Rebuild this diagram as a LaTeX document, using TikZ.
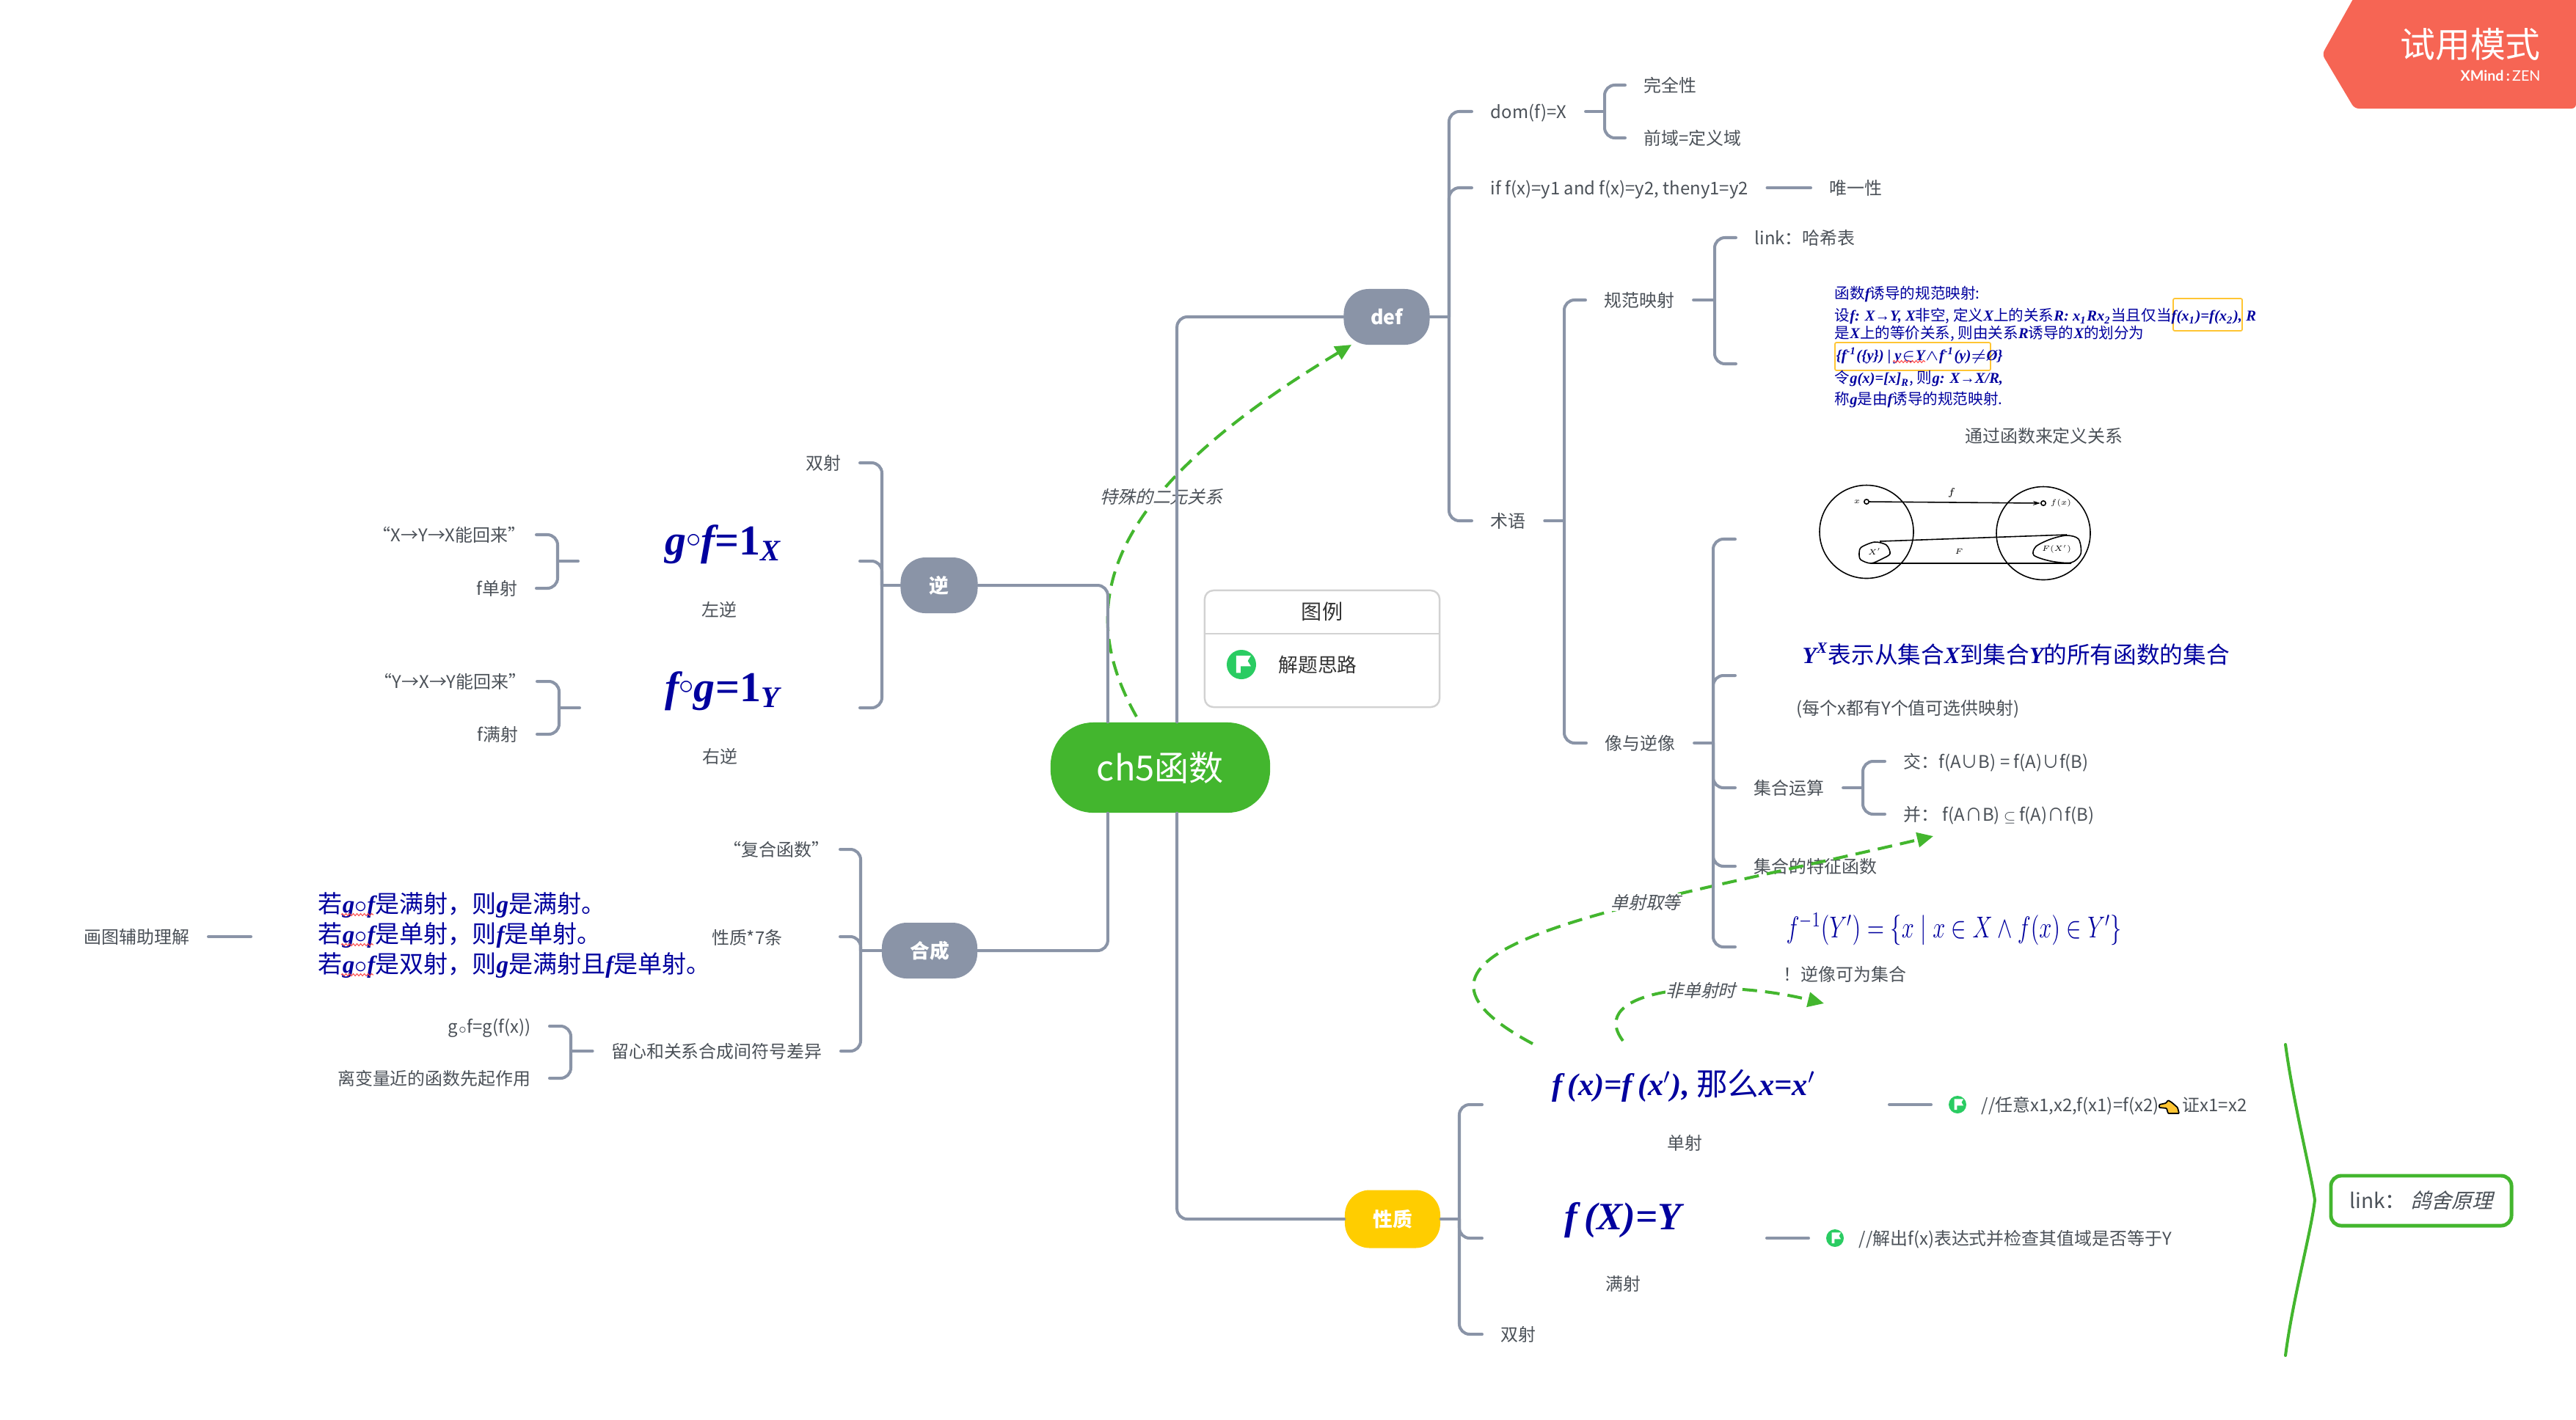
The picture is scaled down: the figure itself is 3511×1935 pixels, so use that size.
\documentclass[tikz,border=0pt]{standalone}
\usepackage{amsmath,amssymb}
\usepackage{fix-cm}
\usepackage{fontspec}
\usepackage{tikz}
\usetikzlibrary{arrows.meta,decorations.pathmorphing}
\setmainfont{Noto Sans CJK SC}
\newfontfamily\cjkit[FakeSlant=0.25]{Noto Sans CJK SC}
\newfontfamily\latinb{Liberation Serif}
\newfontfamily\markf{Lato}
\def\mv#1{{\latinb\bfseries\itshape #1}}
\def\fs#1{\fontsize{#1}{#1}\selectfont}
\def\flagicon#1#2{\fill[white,shift={(#1.center)},scale=#2] (-.37,.6)--(-.37,-.64)--(.68,-.64)--(.45,-.26)--(.68,.12)--(-.06,.12)--(-.06,.6)--cycle;}
\definecolor{spinegrey}{HTML}{8A94A7}
\definecolor{inkgrey}{HTML}{4B5158}
\definecolor{topicgreen}{HTML}{43B62E}
\definecolor{topicyellow}{HTML}{FFCD00}
\definecolor{formblue}{HTML}{00009E}
\definecolor{flaggreen}{HTML}{2ACC62}
\definecolor{boxorange}{HTML}{FFC533}
\definecolor{trialred}{HTML}{F66554}
\definecolor{legendgrey}{HTML}{D2D2D2}
\tikzset{
  leaf/.style={font=\fs{6.8},text=inkgrey,inner xsep=.25cm,inner ysep=0pt,text height=.21cm,text depth=.03cm},
  topic/.style={fill=spinegrey,text=white,font=\fs{7.6}\bfseries,rounded corners=.34cm,inner sep=0pt,minimum height=.76cm},
  branch/.style={draw=spinegrey,line width=1.15pt,rounded corners=.14cm,line cap=round},
  relation/.style={draw=topicgreen,line width=1.15pt,dash pattern=on .2cm off .11cm,-{Triangle[length=.22cm,width=.2cm]}},
  tag/.style={font=\fs{6.8}\cjkit,text=inkgrey,fill=white,inner sep=0pt,text height=.21cm,text depth=.03cm},
  formula/.style={text=formblue,inner sep=0pt},
  flagdot/.style={circle,fill=flaggreen,inner sep=0pt,minimum size=#1},
  wavy/.style={draw=red!70,line width=.3pt,decorate,decoration={snake,amplitude=.015cm,segment length=.05cm}},
  sketch/.style={draw=black,line width=.45pt}
}
\begin{document}
\begin{tikzpicture}[x=.01cm,y=-.01cm]
\useasboundingbox (0,0) rectangle (3511,1935);
% main topics
\node[topic,fill=topicgreen,font=\fs{13.4},rounded corners=.58cm,minimum width=2.99cm,minimum height=1.23cm] (ch) at (1581.5,1046.5){ch5函数};
\node[topic,minimum width=1.17cm] (defn) at (1890,432){def};
\node[topic,minimum width=1.05cm] (ni) at (1280,798){逆};
\node[topic,minimum width=1.3cm] (hecheng) at (1267,1296){合成};
\node[topic,fill=topicyellow,minimum width=1.3cm,minimum height=.79cm] (xingzhi) at (1898,1662){性质};
% def side
\node[leaf] (dom) at (2006,152)[right]{dom(f)=X};
\node[leaf] (wan) at (2215,116)[right]{完全性};
\node[leaf] (qian) at (2215,188)[right]{前域=定义域};
\node[leaf] (weiyi) at (2006,256)[right]{if f(x)=y1 and f(x)=y2, theny1=y2};
\node[leaf] (weiyib) at (2468,256)[right]{唯一性};
\node[leaf] (shuyu) at (2006,710)[right]{术语};
\node[leaf] (guifan) at (2161,409)[right]{规范映射};
\node[leaf] (hash) at (2366,324)[right]{link：哈希表};
\draw[boxorange,line width=.5pt,rounded corners=.02cm] (2962,407) rectangle (3056,451);
\draw[boxorange,line width=.5pt,rounded corners=.02cm] (2501,467) rectangle (2713,505);
\node[formula,font=\fs{5.85}] (blue1) at (2500,401)[right]{函数\mv{f}诱导的规范映射:};
\node[formula,font=\fs{5.85}] (blue2) at (2500,431)[right]{设\mv{f: X→Y, X}非空, 定义\mv{X}上的关系\mv{R: x\textsubscript{1}Rx\textsubscript{2}}当且仅当\mv{f(x\textsubscript{1})=f(x\textsubscript{2}), R}};
\node[formula,font=\fs{5.85}] (blue3) at (2500,455)[right]{是\mv{X}上的等价关系, 则由关系\mv{R}诱导的\mv{X}的划分为};
\node[formula,font=\fs{5.85}] (blue4) at (2502,485)[right]{\mv{\{f\textsuperscript{-1}(\{y\}) | y}$\in$\mv{Y}$\wedge$\mv{f\textsuperscript{-1}(y)}$\neq$\mv{Ø\}}};
\node[formula,font=\fs{5.85}] (blue5) at (2500,516)[right]{令\mv{g(x)=[x]\textsubscript{R}}, 则\mv{g: X→X/R,}};
\node[formula,font=\fs{5.85}] (blue6) at (2500,545)[right]{称\mv{g}是由\mv{f}诱导的规范映射.};
\draw[wavy] (2580,493)--(2624,493);
\node[leaf] (tongguo) at (2786,594){通过函数来定义关系};
\coordinate (guifanb) at (2366,496);
\node[leaf] (xiang) at (2162,1013)[right]{像与逆像};
% sets picture
\draw[sketch] (2544,725) ellipse (64 and 63.5);
\draw[sketch] (2785,727) ellipse (64 and 63.5);
\draw[sketch,-{Stealth[length=.1cm,width=.06cm]}] (2547,684)--(2781,686);
\draw[sketch] (2544,684) circle (3.2);
\draw[sketch] (2785,686) circle (3.2);
\draw[sketch] (2562,738)--(2817,729);
\draw[sketch] (2550,768)--(2823,768);
\draw[sketch] plot[smooth cycle] coordinates {(2537,746) (2555,739) (2571,743) (2576,755) (2565,762) (2550,768) (2536,763) (2534,754)};
\draw[sketch] plot[smooth cycle] coordinates {(2775,745) (2795,735) (2817,730) (2833,735) (2836,755) (2823,767) (2795,765) (2772,757)};
\node[font=\fs{4}\itshape,inner sep=0pt] (mapf) at (2660,672){$f$};
\node[font=\fs{3},inner sep=0pt] (ptx) at (2531,684){$x$};
\node[font=\fs{3},inner sep=0pt] (ptfx) at (2809,686){$f(x)$};
\node[font=\fs{3},inner sep=0pt] (subx) at (2555,752){$X'$};
\node[font=\fs{3},inner sep=0pt] (bigf) at (2670,752){$F$};
\node[font=\fs{3},inner sep=0pt] (subfx) at (2803,749){$F(X')$};
\coordinate (xiangpic) at (2365,735);
\node[formula,font=\fs{9}] (yx) at (2456,892)[right]{\mv{Y\textsuperscript{X}}表示从集合\mv{X}到集合\mv{Y}的所有函数的集合};
\node[leaf] (meige) at (2448,965)[right,inner xsep=0pt]{(每个x都有Y个值可选供映射)};
\coordinate (xiangyx) at (2365,921);
\node[leaf] (yunsuan) at (2365,1074)[right]{集合运算};
\node[leaf] (jiao) at (2569,1038)[right]{交：f(A∪B) = f(A)∪f(B)};
\node[leaf] (bing) at (2569,1110)[right]{并： f(A∩B)\,$\scriptstyle\subseteq$\,f(A)∩f(B)};
\node[leaf] (tezheng) at (2365,1181)[right]{集合的特征函数};
\node[formula,font=\fs{13}] (fanni) at (2434,1267)[right]{\scalebox{.668}[.9]{$f^{-1}(Y')=\{x\mid x\in X\wedge f(x)\in Y'\}$}};
\node[leaf] (nixiang) at (2430,1328)[right,inner xsep=0pt]{！逆像可为集合};
\coordinate (xiangfan) at (2365,1291);
% properties side
\node[formula,font=\fs{12.1}] (danform) at (2115,1480)[right]{\mv{f\,(x)=f\,(x$'$),} 那么\mv{x=x$'$}};
\node[leaf] (dan) at (2296,1558){单射};
\coordinate (danend) at (2020,1506);
\coordinate (dannote) at (2575,1506);
\coordinate (dannoteb) at (2632,1506);
\node[flagdot=.24cm] (danflag) at (2668,1506){};
\flagicon{danflag}{12}
\node[leaf] (renyi) at (2700,1506)[right,inner xsep=0pt]{//任意x1,x2,f(x1)=f(x2)};
\node[leaf] (zheng) at (2974,1506)[right,inner xsep=0pt]{证x1=x2};
\draw[fill=boxorange,draw=black,line width=.5pt,rounded corners=.01cm] (2943,1506)--(2952,1504)--(2955,1500)--(2960,1503)--(2968,1510)--(2970,1518)--(2955,1518)--(2953,1511)--(2943,1510)--cycle;
\node[formula,font=\fs{15}] (manform) at (2132,1664)[right]{\mv{f\,(X)=Y}};
\node[leaf] (man) at (2212,1750){满射};
\coordinate (manend) at (2020,1688);
\coordinate (mannote) at (2408,1688);
\coordinate (mannoteb) at (2465,1688);
\node[flagdot=.24cm] (manflag) at (2501,1688){};
\flagicon{manflag}{12}
\node[leaf] (jiechu) at (2533,1688)[right,inner xsep=0pt]{//解出f(x)表达式并检查其值域是否等于Y};
\node[leaf] (shuang) at (2020,1819)[right]{双射};
% summary
\draw[topicgreen,line width=1.15pt,line cap=round] (3115,1424) .. controls (3125,1500) and (3150,1600) .. (3155,1636) .. controls (3150,1680) and (3125,1770) .. (3115,1848);
\node[draw=topicgreen,line width=1.4pt,rounded corners=.14cm,minimum width=2.46cm,minimum height=.68cm,inner sep=0pt,text=inkgrey,font=\fs{8}] (geshe) at (3300,1637){link： {\cjkit 鸽舍原理}};
% inverse side
\node[leaf] (nishuang) at (1172,631)[left]{双射};
\node[formula,font=\fs{16.5}] (gf) at (986,742){\mv{g}\raisebox{.3ex}{$\scriptstyle\circ$}\mv{f}{\latinb\bfseries =1}\mv{\textsubscript{X}}};
\node[leaf] (zuoni) at (980,831){左逆};
\coordinate (zuoend) at (1172,765);
\coordinate (zuostart) at (788,765);
\node[leaf] (huilai) at (731,729)[left,inner xsep=.14cm]{“X→Y→X能回来”};
\node[leaf] (fdan) at (731,802)[left]{f单射};
\node[formula,font=\fs{16.5}] (fg) at (985,942){\mv{f}\raisebox{.3ex}{$\scriptstyle\circ$}\mv{g}{\latinb\bfseries =1}\mv{\textsubscript{Y}}};
\node[leaf] (youni) at (981,1031){右逆};
\coordinate (youend) at (1172,965);
\coordinate (youstart) at (790,965);
\node[leaf] (huilaib) at (732,929)[left,inner xsep=.14cm]{“Y→X→Y能回来”};
\node[leaf] (fman) at (732,1001)[left]{f满射};
% composition side
\node[leaf] (fuhe) at (1145,1158)[left,inner xsep=.14cm]{“复合函数”};
\node[leaf] (qiqiao) at (1092,1278)[left]{性质*7条};
\coordinate (qiqiaoend) at (1145,1277);
\node[leaf] (liuxin) at (1146,1433)[left]{留心和关系合成间符号差异};
\node[leaf] (gcf) at (749,1399)[left]{g$\scriptstyle\circ$f=g(f(x))};
\node[leaf] (likai) at (749,1470)[left]{离变量近的函数先起作用};
\node[formula,font=\fs{9.4}] (ruo1) at (433,1234)[right]{若\mv{g}$\circ$\mv{f}是满射，则\mv{g}是满射。};
\node[formula,font=\fs{9.4}] (ruo2) at (433,1275)[right]{若\mv{g}$\circ$\mv{f}是单射，则\mv{f}是单射。};
\begin{scope}
  \clip (420,1293) rectangle (950,1340);
  \node[formula,font=\fs{9.4}] (ruo3) at (433,1316)[right]{若\mv{g}$\circ$\mv{f}是双射，则\mv{g}是满射且\mv{f}是单射。};
\end{scope}
\draw[wavy] (465,1247)--(509,1247);
\draw[wavy] (465,1288)--(509,1288);
\draw[wavy] (465,1329)--(509,1329);
\node[leaf] (huatu) at (284,1277)[left]{画图辅助理解};
\coordinate (huatuend) at (342,1277);
% legend
\node[draw=legendgrey,line width=.7pt,rounded corners=.12cm,minimum width=3.2cm,minimum height=1.59cm,inner sep=0pt] (legend) at (1802,884.5){};
\coordinate (legendsep) at (1802,864);
\draw[legendgrey,line width=.7pt] (legendsep -| legend.west)--(legendsep -| legend.east);
\node[font=\fs{8},text=black!80,inner sep=0pt] (legendhead) at (1802,834){图例};
\node[flagdot=.4cm] (legendflag) at (1692,906){};
\flagicon{legendflag}{19}
\node[font=\fs{7.6},text=black!80,inner sep=0pt] (legendtext) at (1796,906){解题思路};
% trial mark
\fill[trialred,rounded corners=.06cm] (3165,74)--(3212,-10)--(3511,-10)--(3511,148)--(3209,148)--cycle;
\node[text=white,font=\fs{13.6},inner sep=0pt] (trial) at (3367,60){试用模式};
\node[text=white,font=\fs{5.6}\markf,inner sep=0pt] (xmind) at (3408,103){\textbf{XMind}\,\textbf{:}\,ZEN};
% relations
\coordinate (defa) at (1549,977);
\coordinate (defb) at (1842,470);
\coordinate (dana) at (2089,1423);
\coordinate (danb) at (2635,1140);
\coordinate (fdana) at (2212,1419);
\coordinate (fdanb) at (2486,1368);
\draw[relation] (defa) .. controls (1460,820) and (1510,670) .. (defb);
\draw[relation] (dana) .. controls (1840,1290) and (2210,1240) .. (danb);
\draw[relation] (fdana) .. controls (2160,1350) and (2330,1330) .. (fdanb);
\node[tag] (tebie) at (1583,677){特殊的二元关系};
\node[tag] (danqu) at (2243,1230){单射取等};
\node[tag] (feidan) at (2318,1350){非单射时};
% tree
\draw[branch] (defn.west) -| (ch.70);
\draw[branch] (ni.east) -| (ch.139);
\draw[branch] (hecheng.east) -| (ch.-139);
\draw[branch] (xingzhi.west) -| (ch.-70);
\coordinate (deffork) at (1975,432);
\draw[branch] (defn.east)--(deffork);
\draw[branch] (dom.west) -| (deffork) |- (shuyu.west);
\draw[branch] (weiyi.west) -| (deffork);
\coordinate (domfork) at (2187,152);
\draw[branch] (dom.east)--(domfork);
\draw[branch] (wan.west) -| (domfork) |- (qian.west);
\draw[branch] (weiyi.east)--(weiyib.west);
\coordinate (shuyufork) at (2132,710);
\draw[branch] (shuyu.east)--(shuyufork);
\draw[branch] (guifan.west) -| (shuyufork) |- (xiang.west);
\coordinate (guifanfork) at (2337,409);
\draw[branch] (guifan.east)--(guifanfork);
\draw[branch] (hash.west) -| (guifanfork) |- (guifanb);
\coordinate (xiangfork) at (2335,1013);
\draw[branch] (xiang.east)--(xiangfork);
\draw[branch] (xiangpic) -| (xiangfork) |- (xiangfan);
\draw[branch] (xiangyx) -| (xiangfork);
\draw[branch] (yunsuan.west) -| (xiangfork);
\draw[branch] (tezheng.west) -| (xiangfork);
\coordinate (yunsuanfork) at (2539,1074);
\draw[branch] (yunsuan.east)--(yunsuanfork);
\draw[branch] (jiao.west) -| (yunsuanfork) |- (bing.west);
\coordinate (xingzhifork) at (1989,1662);
\draw[branch] (xingzhi.east)--(xingzhifork);
\draw[branch] (danend) -| (xingzhifork) |- (shuang.west);
\draw[branch] (manend) -| (xingzhifork);
\draw[branch] (dannote)--(dannoteb);
\draw[branch] (mannote)--(mannoteb);
\coordinate (nifork) at (1202,798);
\draw[branch] (ni.west)--(nifork);
\draw[branch] (nishuang.east) -| (nifork) |- (youend);
\draw[branch] (zuoend) -| (nifork);
\coordinate (zuofork) at (760,765);
\draw[branch] (zuostart)--(zuofork);
\draw[branch] (huilai.east) -| (zuofork) |- (fdan.east);
\coordinate (youfork) at (762,965);
\draw[branch] (youstart)--(youfork);
\draw[branch] (huilaib.east) -| (youfork) |- (fman.east);
\coordinate (hefork) at (1173,1296);
\draw[branch] (hecheng.west)--(hefork);
\draw[branch] (fuhe.east) -| (hefork) |- (liuxin.east);
\draw[branch] (qiqiaoend) -| (hefork);
\coordinate (liufork) at (778,1433);
\draw[branch] (liuxin.west)--(liufork);
\draw[branch] (gcf.east) -| (liufork) |- (likai.east);
\draw[branch] (huatu.east)--(huatuend);
\end{tikzpicture}
\end{document}
